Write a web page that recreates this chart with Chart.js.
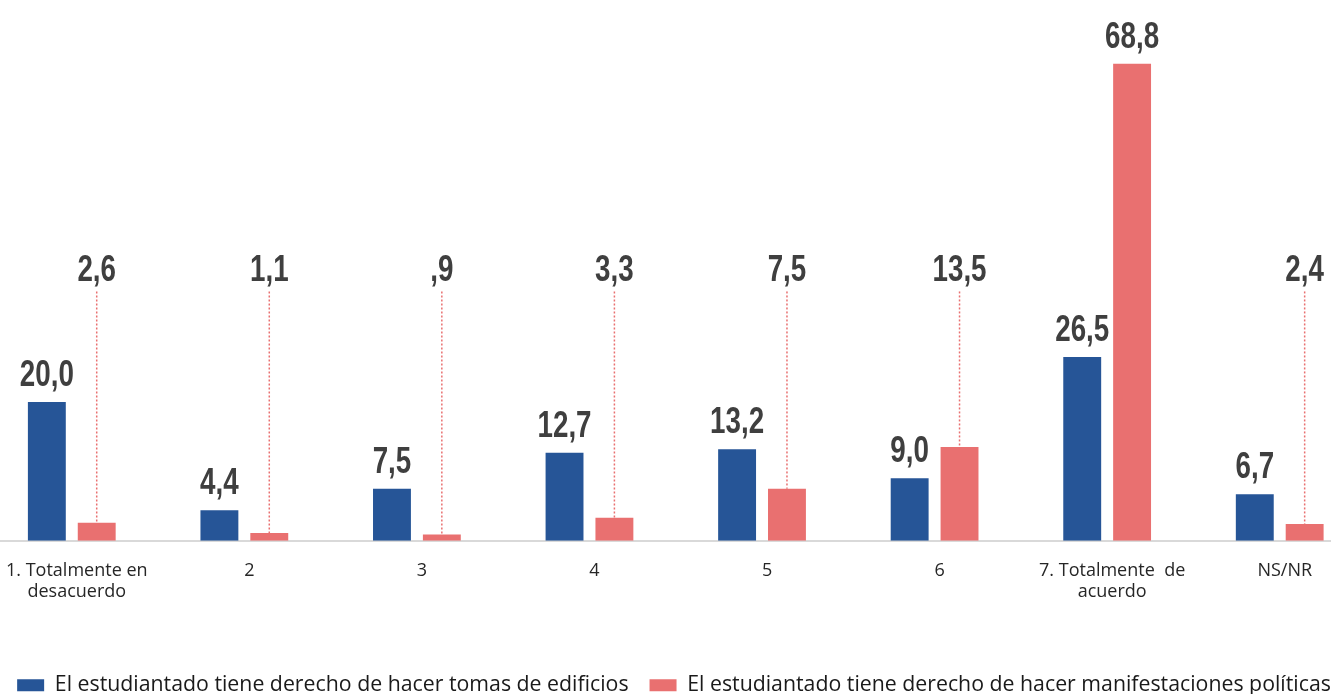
<!DOCTYPE html>
<html lang="es">
<head>
<meta charset="utf-8">
<title>Derecho del estudiantado</title>
<script src="https://cdn.jsdelivr.net/npm/chart.js@4.4.1/dist/chart.umd.min.js"></script>
<style>
  html, body { margin: 0; padding: 0; background: #ffffff; overflow: hidden; }
  body { width: 1331px; height: 694px; position: relative; }
  #wrap { position: absolute; left: -18px; top: 0; width: 1384px; height: 706px; }
</style>
</head>
<body>
<div id="wrap"><canvas id="chart"></canvas></div>
<script>
// Categories (scale 1–7 plus no answer)
const categories = [
  ['1. Totalmente en', 'desacuerdo'],
  '2', '3', '4', '5', '6',
  ['7. Totalmente  de', 'acuerdo'],
  'NS/NR'
];

const seriesNames = [
  'El estudiantado tiene derecho de hacer tomas de edificios',
  'El estudiantado tiene derecho de hacer manifestaciones políticas'
];

// Percentages per category
const tomasEdificios = [20.0, 4.4, 7.5, 12.7, 13.2, 9.0, 26.5, 6.7];
const manifestaciones = [2.6, 1.1, 0.9, 3.3, 7.5, 13.5, 68.8, 2.4];

const BLUE = '#265597';
const RED = '#e97070';
const LABEL_COLOR = '#3f3f3f';
const LABEL_FONT = 'bold 37px "Liberation Sans", Arial, sans-serif';
const LABEL_STRETCH = 0.75;   // condensed look for the value labels

// Level (in value units) where the short red bars get their label, joined by a dotted leader
const LEADER_LEVEL = 37.4;

function fmt(v) {
  return v.toFixed(1).replace('.', ',').replace(/^0,/, ',');
}

function drawLabel(ctx, txt, x, y) {
  ctx.save();
  ctx.translate(x, y);
  ctx.scale(LABEL_STRETCH, 1);
  ctx.fillText(txt, 0, 0);
  ctx.restore();
}

const valueLabels = {
  id: 'valueLabels',
  afterDatasetsDraw(chart) {
    const ctx = chart.ctx;
    const yScale = chart.scales.y;
    const leaderY = yScale.getPixelForValue(LEADER_LEVEL);
    ctx.save();
    ctx.font = LABEL_FONT;
    ctx.fillStyle = LABEL_COLOR;
    ctx.textAlign = 'center';
    ctx.textBaseline = 'alphabetic';
    chart.data.datasets.forEach((ds, di) => {
      const meta = chart.getDatasetMeta(di);
      meta.data.forEach((bar, i) => {
        const txt = fmt(ds.data[i]);
        const gap = 16;
        if (di === 0 || bar.y - gap < leaderY) {
          drawLabel(ctx, txt, bar.x, bar.y - gap);
        } else {
          drawLabel(ctx, txt, bar.x, leaderY);
          ctx.save();
          ctx.strokeStyle = RED;
          ctx.lineWidth = 1.5;
          ctx.setLineDash([2, 2]);
          ctx.beginPath();
          ctx.moveTo(bar.x, leaderY + 10);
          ctx.lineTo(bar.x, bar.y);
          ctx.stroke();
          ctx.restore();
        }
      });
    });
    ctx.restore();
  }
};

new Chart(document.getElementById('chart'), {
  type: 'bar',
  data: {
    labels: categories,
    datasets: [
      { label: seriesNames[0], data: tomasEdificios, backgroundColor: BLUE },
      { label: seriesNames[1], data: manifestaciones, backgroundColor: RED }
    ]
  },
  options: {
    responsive: true,
    maintainAspectRatio: false,
    animation: false,
    categoryPercentage: 0.578,
    barPercentage: 0.76,
    layout: { padding: 0 },
    scales: {
      x: {
        grid: { display: false, drawTicks: false },
        border: { display: true, color: '#d9d9d9', width: 2 },
        ticks: {
          color: '#262626',
          font: { family: '"Open Sans", sans-serif', size: 18 },
          padding: 19,
          labelOffset: 5,
          maxRotation: 0,
          autoSkip: false
        },
        afterFit(scale) { scale.height = 113; }
      },
      y: {
        display: false,
        min: 0,
        max: 78
      }
    },
    plugins: {
      legend: {
        position: 'bottom',
        labels: {
          color: '#1a1a1a',
          font: { family: '"Open Sans", sans-serif', size: 21.3 },
          boxWidth: 27,
          boxHeight: 12,
          padding: 21
        }
      },
      tooltip: { enabled: false }
    }
  },
  plugins: [valueLabels]
});
</script>
</body>
</html>
